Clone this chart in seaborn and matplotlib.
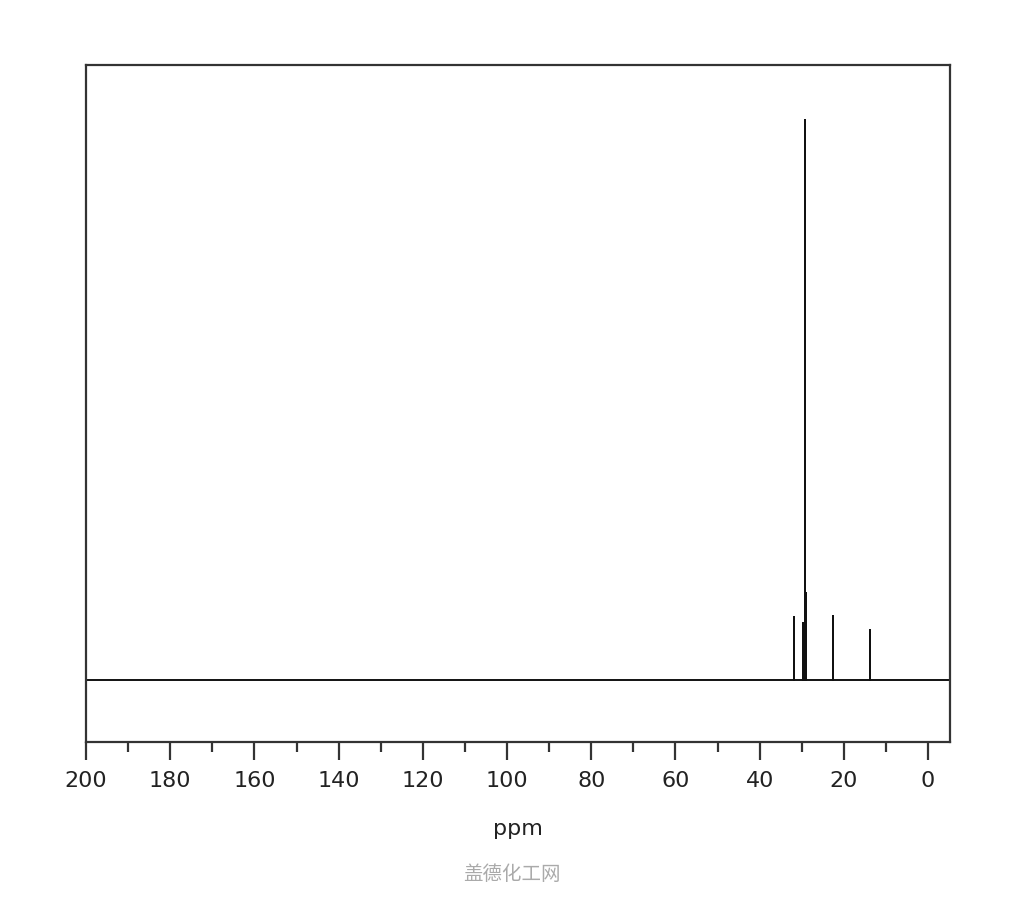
import numpy as np
import pandas as pd
import matplotlib
matplotlib.use("Agg")
import matplotlib.pyplot as plt
import seaborn as sns

# Peak data (ppm, relative intensity)
peak_ppm = [31.8, 29.6, 29.2, 29.0, 22.5, 13.9]
peak_int = [11.3, 10.2, 100.0, 15.5, 11.4, 8.9]
x_range = [200.0, -5.2]
major_ticks = [200, 180, 160, 140, 120, 100, 80, 60, 40, 20, 0]
minor_ticks = [190, 170, 150, 130, 110, 90, 70, 50, 30, 10]

sns.set_style("white")
plt.rcParams['font.family'] = ['DejaVu Sans', 'Noto Sans CJK SC']

# Build the stick trace from the peak arrays
xs = [x_range[0]]
ys = [0.0]
for p, h in sorted(zip(peak_ppm, peak_int), key=lambda t: -t[0]):
    xs += [p, p, p]
    ys += [0.0, h, 0.0]
xs.append(x_range[1])
ys.append(0.0)
df = pd.DataFrame({"ppm": xs, "intensity": ys})

fig = plt.figure(figsize=(10.24, 9), dpi=100)
ax = fig.add_axes([86/1024, 1-742/900, (950-86)/1024, (742-65)/900])

sns.lineplot(data=df, x="ppm", y="intensity", sort=False, estimator=None,
             color="#111111", linewidth=1.4, ax=ax)

ax.set_xlim(x_range[0], x_range[1])
ax.set_ylim(-11.07, 109.8)
ax.set_yticks([])
ax.set_ylabel("")
ax.set_xticks(major_ticks)
ax.set_xticklabels([str(t) for t in major_ticks])
ax.set_xticks(minor_ticks, minor=True)
ax.tick_params(axis="x", which="major", direction="out", length=13, width=1.6,
               color="#333333", labelsize=16, labelcolor="#222222", pad=8, bottom=True)
ax.tick_params(axis="x", which="minor", direction="out", length=7, width=1.6,
               color="#333333", bottom=True)
for s in ax.spines.values():
    s.set_visible(True)
    s.set_color("#333333")
    s.set_linewidth(1.6)

ax.set_xlabel("ppm", fontsize=16, color="#222222", labelpad=20)

fig.text(0.5, 1-875/900, "盖德化工网", ha="center", va="center",
         fontsize=14, color="#aaaaaa", family=["Noto Sans CJK SC", "DejaVu Sans"])

fig.savefig("out.png", dpi=100, facecolor="white")
